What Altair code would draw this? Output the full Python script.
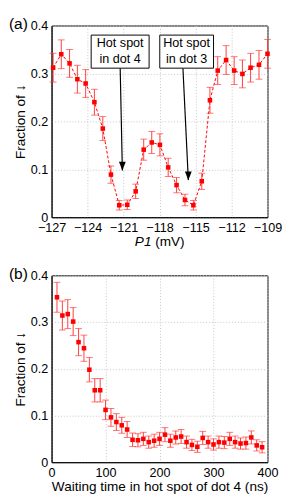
import altair as alt
import pandas as pd

# ---------- panel (a) data ----------
p1_mv = [-126.87, -126.19, -125.50, -124.85, -124.16, -123.43, -122.73, -122.05, -121.36,
         -120.69, -119.99, -119.32, -118.65, -117.97, -117.28, -116.58, -115.88, -115.18,
         -114.48, -113.80, -113.15, -112.45, -111.78, -111.09, -110.41, -109.71, -109.00]
frac_a = [0.312, 0.340, 0.321, 0.288, 0.279, 0.240, 0.185, 0.089, 0.025,
          0.026, 0.054, 0.141, 0.156, 0.151, 0.104, 0.067, 0.036, 0.025,
          0.075, 0.244, 0.306, 0.328, 0.306, 0.299, 0.312, 0.318, 0.341]
err_a = [0.030, 0.030, 0.029, 0.029, 0.029, 0.027, 0.025, 0.018, 0.010,
         0.010, 0.015, 0.022, 0.023, 0.023, 0.019, 0.016, 0.012, 0.010,
         0.017, 0.027, 0.029, 0.030, 0.029, 0.029, 0.030, 0.030, 0.030]

# annotation boxes / arrows (data units of panel a)
box_left = [-123.70, -117.98]
box_right = [-118.87, -113.50]
box_top = [0.380, 0.380]
box_bottom = [0.311, 0.311]
box_cx = [-121.28, -115.74]
line1 = ["Hot spot", "Hot spot"]
line2 = ["in dot 4", "in dot 3"]
line1_y = [0.364, 0.364]
line2_y = [0.330, 0.330]
arrow_x0 = [-121.28, -116.05]
arrow_y0 = [0.311, 0.311]
arrow_x1 = [-121.10, -115.60]
arrow_y1 = [0.0976, 0.0774]

# ---------- panel (b) data ----------
wait_ns = [10, 20, 30, 40, 50, 60, 70, 80, 90, 100, 110, 120, 130, 140, 150, 160, 170, 180, 190,
           200, 210, 220, 230, 240, 250, 260, 270, 280, 290, 300, 310, 320, 330, 340, 350, 360,
           370, 380, 390]
frac_b = [0.353, 0.314, 0.317, 0.301, 0.257, 0.244, 0.198, 0.154, 0.154, 0.112, 0.096, 0.086,
          0.079, 0.070, 0.048, 0.047, 0.050, 0.043, 0.046, 0.050, 0.059, 0.046, 0.053, 0.055,
          0.043, 0.037, 0.033, 0.052, 0.043, 0.038, 0.043, 0.042, 0.050, 0.043, 0.040, 0.041,
          0.053, 0.036, 0.032]
err_b = [0.032, 0.031, 0.031, 0.030, 0.029, 0.028, 0.026, 0.025, 0.025, 0.021, 0.019, 0.018,
         0.017, 0.017, 0.0145, 0.014, 0.014, 0.013, 0.014, 0.014, 0.015, 0.014, 0.014, 0.015,
         0.013, 0.012, 0.012, 0.014, 0.013, 0.012, 0.013, 0.013, 0.014, 0.013, 0.012, 0.013,
         0.014, 0.012, 0.012]

FONT = "Liberation Sans"
RED = "#ff0000"
ERR = "#ff3b3b"

df_a = pd.DataFrame({"x": p1_mv, "y": frac_a,
                     "lo": [v - e for v, e in zip(frac_a, err_a)],
                     "hi": [v + e for v, e in zip(frac_a, err_a)]})
df_b = pd.DataFrame({"x": wait_ns, "y": frac_b,
                     "lo": [v - e for v, e in zip(frac_b, err_b)],
                     "hi": [v + e for v, e in zip(frac_b, err_b)]})
df_box = pd.DataFrame({"l": box_left, "r": box_right, "t": box_top, "b": box_bottom,
                       "cx": box_cx, "s1": line1, "s2": line2, "y1": line1_y, "y2": line2_y,
                       "ax0": arrow_x0, "ay0": arrow_y0, "ax1": arrow_x1, "ay1": arrow_y1})

y_ticks = [0, 0.1, 0.2, 0.3, 0.4]
SY = alt.Scale(domain=[0, 0.4], nice=False, zero=False)
YAX = alt.Axis(values=y_ticks, format=".1~f", title="Fraction of ↓", titlePadding=3,
               labelPadding=4, labelFlush=False, labelOverlap=False)


def make_x(xdom, xticks, xtitle):
    sc = alt.Scale(domain=xdom, nice=False, zero=False)
    ax = alt.Axis(values=xticks, title=xtitle, labelFlush=False, labelPadding=5,
                  titlePadding=0, labelOverlap=False)
    return lambda f: alt.X(f"{f}:Q", scale=sc, axis=ax)


def Y(f):
    return alt.Y(f"{f}:Q", scale=SY, axis=YAX)


def panel(df, X, with_line):
    base = alt.Chart(df)
    layers = []
    if with_line:
        layers.append(base.mark_line(color=RED, strokeDash=[3, 2], strokeWidth=1).encode(
            x=X("x"), y=Y("y")))
    layers += [
        base.mark_rule(color=ERR, strokeWidth=1).encode(x=X("x"), y=Y("lo"), y2="hi:Q"),
        base.mark_tick(color=ERR, orient="horizontal", size=7, thickness=1).encode(x=X("x"), y=Y("lo")),
        base.mark_tick(color=ERR, orient="horizontal", size=7, thickness=1).encode(x=X("x"), y=Y("hi")),
        base.mark_point(shape="square", filled=True, color=RED, size=22, opacity=1).encode(
            x=X("x"), y=Y("y")),
    ]
    return layers


# ----- panel (a) -----
XA = make_x([-127, -109], list(range(-127, -108, 3)), None)
layers_a = panel(df_a, XA, True)

bx = alt.Chart(df_box)
ann = [
    bx.mark_rule(color="black", strokeWidth=1.2).encode(
        x=XA("ax0"), y=Y("ay0"), x2="ax1:Q", y2="ay1:Q"),
    bx.mark_point(shape="M-0.7,-1.8L0.7,-1.8L0,0Z", filled=True, color="black", size=100,
                  opacity=1).encode(x=XA("ax1"), y=Y("ay1")),
    bx.mark_rect(fill="white", stroke="black", strokeWidth=1).encode(
        x=XA("l"), x2="r:Q", y=Y("t"), y2="b:Q"),
    bx.mark_text(font=FONT, fontSize=13, color="black", baseline="middle").encode(
        x=XA("cx"), y=Y("y1"), text="s1:N"),
    bx.mark_text(font=FONT, fontSize=13, color="black", baseline="middle").encode(
        x=XA("cx"), y=Y("y2"), text="s2:N"),
]

labels_a = [
    alt.Chart(pd.DataFrame({"t": ["(a)"]})).mark_text(font=FONT, fontSize=16, align="left",
                                                      baseline="middle", color="black"
                                                      ).encode(x=alt.value(-44), y=alt.value(-1), text="t:N"),
    alt.Chart(pd.DataFrame({"t": ["P1"]})).mark_text(font=FONT, fontSize=14, fontStyle="italic",
                                                     align="left", baseline="middle", color="black"
                                                     ).encode(x=alt.value(86), y=alt.value(224), text="t:N"),
    alt.Chart(pd.DataFrame({"t": ["(mV)"]})).mark_text(font=FONT, fontSize=14, align="left",
                                                       baseline="middle", color="black"
                                                       ).encode(x=alt.value(107), y=alt.value(224), text="t:N"),
]

chart_a = alt.layer(*layers_a, *ann, *labels_a).properties(width=223, height=198)

# ----- panel (b) -----
XB = make_x([0, 400], [0, 100, 200, 300, 400], "Waiting time in hot spot of dot 4 (ns)")
layers_b = panel(df_b, XB, False)
labels_b = [
    alt.Chart(pd.DataFrame({"t": ["(b)"]})).mark_text(font=FONT, fontSize=16, align="left",
                                                      baseline="middle", color="black"
                                                      ).encode(x=alt.value(-44), y=alt.value(-1), text="t:N"),
]
chart_b = alt.layer(*layers_b, *labels_b).properties(width=223, height=193)

chart = alt.vconcat(chart_a, chart_b, spacing=16).properties(
    padding={"left": 0, "top": 0, "right": 0, "bottom": 0}
).configure_view(
    stroke="black", strokeWidth=1
).configure_axis(
    labelFont=FONT, labelFontSize=13, labelColor="black",
    titleFont=FONT, titleFontSize=14, titleFontWeight="normal", titleColor="black",
    grid=True, gridColor="#c4c4c4", gridDash=[1, 2], gridWidth=1,
    domain=True, domainColor="black", domainWidth=1, ticks=False
).configure_text(font=FONT)

chart.save("out.html", embed_options={"renderer": "svg", "actions": False})
